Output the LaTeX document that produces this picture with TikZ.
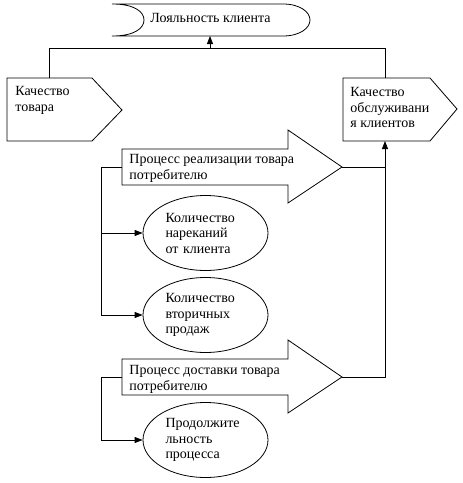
\documentclass[tikz,border=0pt]{standalone}
\usepackage{fontspec}
\setmainfont{Liberation Serif}
\usetikzlibrary{arrows.meta,shapes.geometric}
\begin{document}
\begin{tikzpicture}[x=1pt,y=-1pt,line width=0.8pt,
  font=\fontsize{14}{15.5}\selectfont,
  arr/.style={-{Triangle[length=8pt,width=6pt]}},
  lbl/.style={anchor=north west,inner sep=0pt,align=left},
  oval/.style={draw,ellipse,minimum width=125pt,minimum height=75pt,inner sep=0pt,text width=80pt,align=left}]
\useasboundingbox (0,0) rectangle (463,483);
% top shape
\draw (112,4) -- (283,4) .. controls (300,4) and (310,12) .. (310,20)
  .. controls (310,28) and (300,36) .. (283,36) -- (112,36)
  .. controls (135,36) and (144,28) .. (144,20)
  .. controls (144,12) and (135,4) .. (112,4);
\node[anchor=base west,inner sep=0pt] (loy) at (150,22) {Лояльность клиента};
\coordinate (loyS) at (210,36);
% quality of goods
\draw (7,78) -- (92,78) -- (122,110) -- (92,141) -- (7,141) -- cycle;
\node[lbl] (kt) at (15,86) {Качество\\товара};
\coordinate (ktN) at (49,78);
% quality of service
\draw (343,78) -- (430,78) -- (457,109) -- (430,141) -- (343,141) -- cycle;
\node[lbl] (ko) at (350,87) {Качество\\обслуживани\\я клиентов};
\coordinate (koN) at (385,78);
\coordinate (koS) at (385,141);
% process 1
\draw (122,149) -- (288,149) -- (288,130) -- (342,167) -- (288,203) -- (288,185) -- (122,185) -- cycle;
\node[lbl] (p1) at (129,154) {Процесс реализации товара\\потребителю};
\coordinate (p1L) at (122,167);
\coordinate (p1R) at (342,167);
% process 2
\draw (122,359) -- (288,359) -- (288,340) -- (342,377) -- (288,413) -- (288,395) -- (122,395) -- cycle;
\node[lbl] (p2) at (129,365) {Процесс доставки товара\\потребителю};
\coordinate (p2L) at (122,377);
\coordinate (p2R) at (342,377);
% ellipses
\node[oval] (e1) at (205.5,233) {Количество\\нареканий\\от клиента};
\node[oval] (e2) at (205.5,315) {Количество\\вторичных\\продаж};
\node[oval] (e3) at (205.5,440) {Продолжите\\льность\\процесса};
% connectors
\coordinate (t) at (210,48);
\draw (ktN) -- (ktN |- t) -- (koN |- t) -- (koN);
\draw[arr] (t) -- (loyS);
\draw[arr] (p2R) -| (koS);
\draw (p1R) -- (p1R -| koS);
\coordinate (j1) at (101,167);
\draw[arr] (p1L) -- (j1) |- (e2.west);
\draw[arr] (j1 |- e1.west) -- (e1.west);
\coordinate (j2) at (101,377);
\draw[arr] (p2L) -- (j2) |- (e3.west);
\end{tikzpicture}
\end{document}
